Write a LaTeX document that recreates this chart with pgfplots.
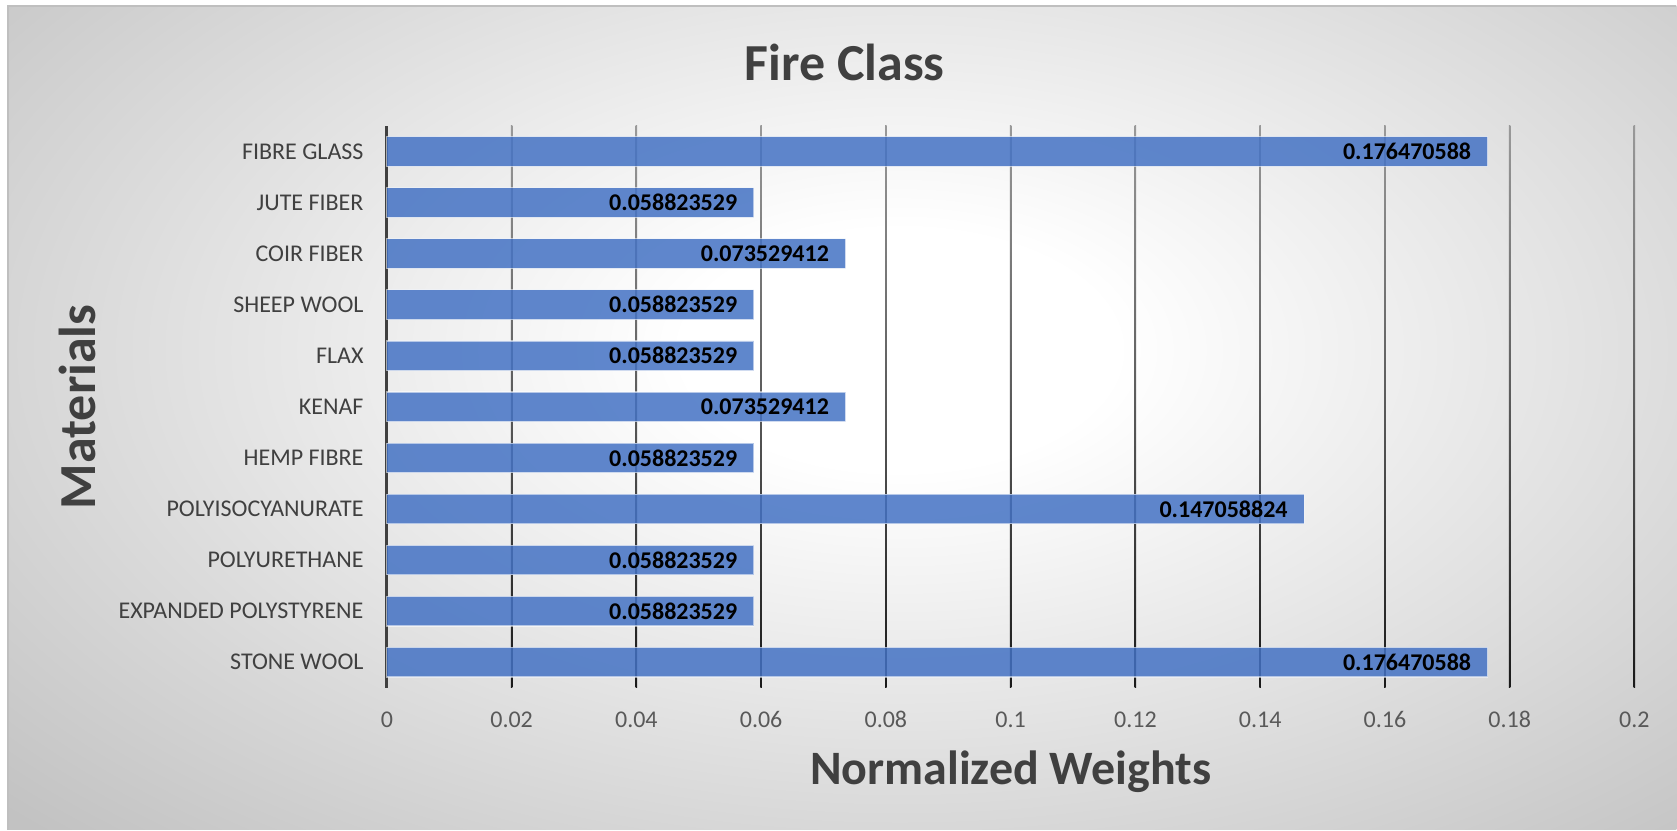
\documentclass[border=0pt]{standalone}
\usepackage{fontspec}
\setmainfont{Carlito}
\usepackage{pgfplots}
\usepackage{pgfplotstable}
\pgfplotsset{compat=1.18}
\definecolor{barblue}{HTML}{4472C4}
\definecolor{txt}{HTML}{404040}
\definecolor{tickc}{HTML}{595959}
\pgfdeclareradialshading{bgshade}{\pgfpoint{0bp}{0bp}}{color(0bp)=(white); color(6bp)=(white); color(34bp)=(black!24); color(50bp)=(black!25)}

\pgfplotstableread{
y x lab
0 0.176470588 0.176470588
1 0.058823529 0.058823529
2 0.058823529 0.058823529
3 0.147058824 0.147058824
4 0.058823529 0.058823529
5 0.073529412 0.073529412
6 0.058823529 0.058823529
7 0.058823529 0.058823529
8 0.073529412 0.073529412
9 0.058823529 0.058823529
10 0.176470588 0.176470588
}\data

\begin{document}
\begin{tikzpicture}
\fill[white] (0pt,0pt) rectangle (838.5pt,415pt);
\begin{scope}
\clip (4pt,0pt) rectangle (838.5pt,412pt);
\shade[shading=bgshade] (0pt,-10pt) rectangle (900pt,490pt);
\end{scope}
\draw[black!25, line width=0.6pt] (4pt,0pt) -- (4pt,412pt) -- (838.5pt,412pt);
\begin{axis}[
  at={(193.5pt,71pt)}, anchor=south west,
  scale only axis, width=624pt, height=281pt,
  xbar, bar width=0.58,
  xmin=0, xmax=0.2, ymin=-0.5, ymax=10.5,
  ytick={0,...,10},
  yticklabels={STONE WOOL, EXPANDED POLYSTYRENE, POLYURETHANE, POLYISOCYANURATE, HEMP FIBRE, KENAF, FLAX, SHEEP WOOL, COIR FIBER, JUTE FIBER, FIBRE GLASS},
  xtick={0,0.02,0.04,0.06,0.08,0.1,0.12,0.14,0.16,0.18,0.2},
  xticklabels={0,0.02,0.04,0.06,0.08,0.1,0.12,0.14,0.16,0.18,0.2},
  scaled x ticks=false,
  /pgf/number format/assume math mode=true,
  major tick length=0pt,
  axis x line*=bottom, axis y line*=left,
  x axis line style={draw=none},
  y axis line style={draw=txt, line width=1.5pt},
  xticklabel style={font=\fontsize{12}{14}\selectfont, text=tickc, anchor=center, yshift=-16pt},
  yticklabel style={font=\fontsize{12}{14}\selectfont, text=txt, anchor=east, inner sep=0pt, xshift=-11.5pt},
  clip=false,
]
\pgfplotsinvokeforeach{0.02,0.04,0.06,0.08,0.1,0.12,0.14,0.16,0.18,0.2}{
  \shade[top color=black!40, bottom color=black!90]
    ([xshift=-0.4pt]axis cs:#1,-0.5) rectangle ([xshift=0.4pt]axis cs:#1,10.5);
}
\addplot[fill=barblue, fill opacity=0.85, draw=white, draw opacity=0.55, line width=0.6pt,
  nodes near coords, point meta=explicit symbolic,
  every node near coord/.append style={anchor=east, font=\fontsize{12}{14}\selectfont\bfseries, text=black, fill opacity=1, text opacity=1, draw opacity=1, inner sep=0pt, xshift=-8pt}]
  table[x=x, y=y, meta=lab]{\data};
\end{axis}
\node[font=\fontsize{26}{30}\selectfont\bfseries, text=txt] at (422.5pt,384pt) {Fire Class};
\node[font=\fontsize{24}{28}\selectfont\bfseries, text=txt] at (505.5pt,29pt) {Normalized Weights};
\node[font=\fontsize{26}{30}\selectfont\bfseries, text=txt, rotate=90] at (38.5pt,211.5pt) {Materials};
\end{tikzpicture}
\end{document}
